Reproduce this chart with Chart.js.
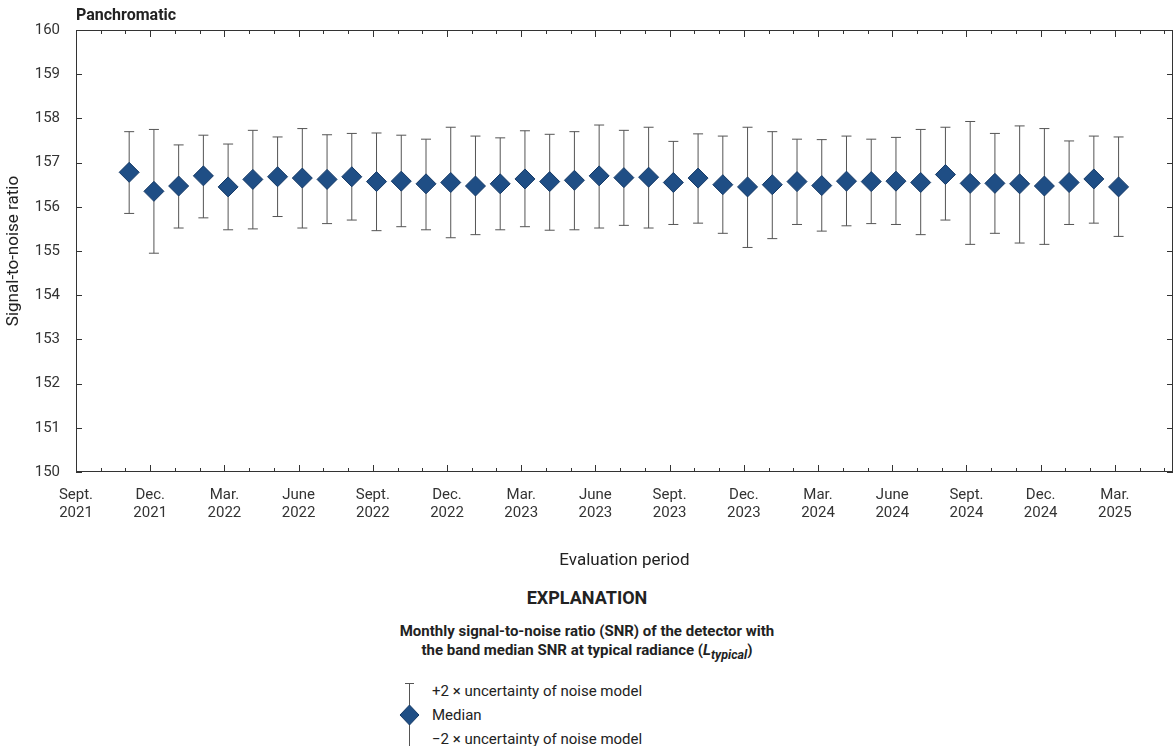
<!DOCTYPE html>
<html><head><meta charset="utf-8">
<script src="https://cdn.jsdelivr.net/npm/chart.js@4"></script>
<style>
body{margin:0;background:#fff;font-family:"Liberation Sans Narrow",Roboto,sans-serif;color:#222;overflow:hidden}
#wrap{position:relative;width:1184px;height:575px}
#legend{position:absolute;left:0;top:587px;width:1174px;text-align:center}
.h{font-weight:bold;font-size:18px}
.sub{font-weight:bold;font-size:15px;margin-top:14px;line-height:19px}
.items{position:absolute;left:398px;top:92px;text-align:left;font-size:15px}
.items div{height:24px;line-height:24px}
</style></head><body>
<div id="wrap"><canvas id="c"></canvas></div>
<div id="legend">
<div class="h">EXPLANATION</div>
<div class="sub">Monthly signal-to-noise ratio (SNR) of the detector with<br>the band median SNR at typical radiance (<i>L<sub>typical</sub></i>)</div>
<div class="items"><canvas id="lg" width="30" height="72" style="position:absolute;left:0;top:0"></canvas>
<div style="padding-left:34px">+2 × uncertainty of noise model</div>
<div style="padding-left:34px">Median</div>
<div style="padding-left:34px">−2 × uncertainty of noise model</div></div>
</div>
<script>
// months since Sept. 2021
const tickLabels = ['Sept.|2021','Dec.|2021','Mar.|2022','June|2022','Sept.|2022','Dec.|2022','Mar.|2023','June|2023','Sept.|2023','Dec.|2023','Mar.|2024','June|2024','Sept.|2024','Dec.|2024','Mar.|2025'];
const median = [156.78,156.35,156.47,156.70,156.45,156.62,156.68,156.65,156.62,156.68,156.57,156.58,156.52,156.55,156.47,156.52,156.63,156.57,156.60,156.70,156.66,156.67,156.55,156.65,156.50,156.45,156.50,156.57,156.48,156.58,156.57,156.58,156.55,156.73,156.53,156.53,156.52,156.47,156.55,156.63,156.45];
const upper = [157.70,157.75,157.40,157.62,157.42,157.73,157.58,157.77,157.63,157.66,157.67,157.62,157.53,157.80,157.60,157.56,157.72,157.64,157.70,157.85,157.73,157.80,157.48,157.65,157.60,157.80,157.70,157.53,157.52,157.60,157.53,157.57,157.75,157.80,157.93,157.66,157.83,157.77,157.49,157.60,157.58];
const lower = [155.85,154.95,155.52,155.75,155.48,155.50,155.78,155.52,155.62,155.70,155.46,155.55,155.48,155.30,155.37,155.48,155.55,155.47,155.48,155.52,155.58,155.52,155.60,155.63,155.40,155.08,155.28,155.60,155.45,155.57,155.62,155.60,155.37,155.70,155.15,155.40,155.18,155.15,155.60,155.63,155.33];
const monthPos = median.map((v, i) => i + 2.15);

const FILL = '#1f4e85', EDGE = '#163a66', BAR = '#555';

const decor = {
  id: 'decor',
  beforeDatasetsDraw(chart) {
    const {ctx, scales: {x, y}} = chart;
    ctx.save();
    ctx.strokeStyle = BAR; ctx.lineWidth = 1;
    median.forEach((v, i) => {
      const px = x.getPixelForValue(monthPos[i]);
      const pt = y.getPixelForValue(upper[i]), pb = y.getPixelForValue(lower[i]);
      ctx.beginPath();
      ctx.moveTo(px, pt); ctx.lineTo(px, pb);
      ctx.moveTo(px - 5, pt); ctx.lineTo(px + 5, pt);
      ctx.moveTo(px - 5, pb); ctx.lineTo(px + 5, pb);
      ctx.stroke();
    });
    ctx.restore();
  },
  afterDraw(chart) {
    const {ctx, chartArea: a, scales: {x, y}} = chart;
    ctx.save();
    ctx.strokeStyle = '#333'; ctx.lineWidth = 1;
    ctx.strokeRect(a.left + 0.5, a.top + 0.5, a.right - a.left - 1, a.bottom - a.top - 1);
    ctx.beginPath();
    for (let v = 150; v <= 160; v++) {
      const py = Math.round(y.getPixelForValue(v)) + 0.5;
      ctx.moveTo(a.left, py); ctx.lineTo(a.left + 6, py);
      ctx.moveTo(a.right, py); ctx.lineTo(a.right - 6, py);
    }
    for (let m = 0; m <= 44; m++) {
      const px = Math.round(x.getPixelForValue(m)) + 0.5;
      const len = m % 3 === 0 ? 7 : 4;
      ctx.moveTo(px, a.bottom); ctx.lineTo(px, a.bottom - len);
      ctx.moveTo(px, a.top); ctx.lineTo(px, a.top + len);
    }
    ctx.stroke();
    ctx.fillStyle = '#222';
    ctx.font = 'bold 16px "Liberation Sans Narrow", Roboto, sans-serif';
    ctx.textBaseline = 'middle';
    ctx.fillText('Panchromatic', a.left, 16);
    ctx.restore();
  }
};

new Chart(document.getElementById('c'), {
  type: 'scatter',
  data: {
    datasets: [{
      data: median.map((v, i) => ({x: monthPos[i], y: v})),
      pointStyle: 'rectRot', pointRadius: 10, pointHoverRadius: 10,
      backgroundColor: FILL, borderColor: EDGE, borderWidth: 1
    }]
  },
  options: {
    responsive: true, maintainAspectRatio: false, animation: false,
    layout: {padding: {top: 30, right: 2, left: 0}},
    plugins: {legend: {display: false}, tooltip: {enabled: false}},
    scales: {
      x: {
        type: 'linear', min: 0, max: 44.35,
        afterBuildTicks: s => { s.ticks = tickLabels.map((t, i) => ({value: i * 3})); },
        afterFit: s => { s.height = 103; },
        grid: {display: false}, border: {display: false},
        ticks: {
          autoSkip: false, maxRotation: 0, padding: 6, color: '#333',
          font: {size: 15, family: '"Liberation Sans Narrow", Roboto, sans-serif'},
          callback: (v) => tickLabels[v / 3].split('|')
        },
        title: {display: true, text: 'Evaluation period', color: '#222', padding: {top: 6},
          font: {size: 17, family: '"Liberation Sans Narrow", Roboto, sans-serif'}}
      },
      y: {
        min: 150, max: 160,
        afterFit: s => { s.width = 76; },
        grid: {display: false}, border: {display: false},
        ticks: {stepSize: 1, color: '#333', padding: 8,
          font: {size: 15, family: '"Liberation Sans Narrow", Roboto, sans-serif'}},
        title: {display: true, text: 'Signal-to-noise ratio', color: '#222', padding: {bottom: 4},
          font: {size: 17, family: '"Liberation Sans Narrow", Roboto, sans-serif'}}
      }
    }
  },
  plugins: [decor]
});

// legend symbol
const g = document.getElementById('lg').getContext('2d');
g.strokeStyle = BAR; g.lineWidth = 1;
g.beginPath();
g.moveTo(11.5, 4); g.lineTo(11.5, 68);
g.moveTo(7, 4.5); g.lineTo(16, 4.5);
g.moveTo(7, 67.5); g.lineTo(16, 67.5);
g.stroke();
g.fillStyle = FILL; g.strokeStyle = EDGE;
g.beginPath(); g.moveTo(11.5, 26); g.lineTo(21, 36); g.lineTo(11.5, 46); g.lineTo(2, 36); g.closePath();
g.fill(); g.stroke();
</script>
</body></html>
